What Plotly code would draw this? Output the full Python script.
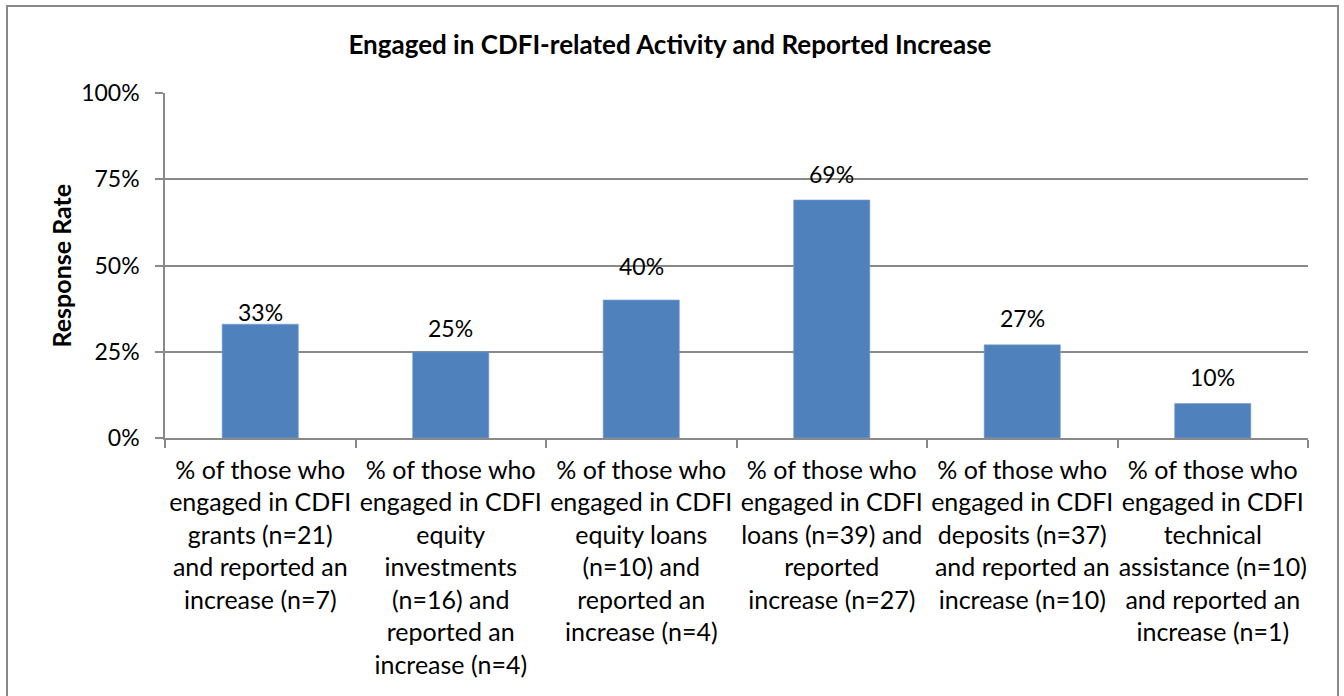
import plotly.graph_objects as go

# Category labels, one list of lines per bar
categories = [
    ["% of those who", "engaged in CDFI", "grants (n=21)", "and reported an", "increase (n=7)"],
    ["% of those who", "engaged in CDFI", "equity", "investments", "(n=16) and", "reported an", "increase (n=4)"],
    ["% of those who", "engaged in CDFI", "equity loans", "(n=10) and", "reported an", "increase (n=4)"],
    ["% of those who", "engaged in CDFI", "loans (n=39) and", "reported", "increase (n=27)"],
    ["% of those who", "engaged in CDFI", "deposits (n=37)", "and reported an", "increase (n=10)"],
    ["% of those who", "engaged in CDFI", "technical", "assistance (n=10)", "and reported an", "increase (n=1)"],
]
response_rate = [0.33, 0.25, 0.40, 0.69, 0.27, 0.10]
y_ticks = [0, 0.25, 0.50, 0.75, 1.00]
y_tick_labels = ["0%", "25%", "50%", "75%", "100%"]

# vertical offset (px) of each value label above its bar
label_lift = [12, 24, 34, 26, 27, 27]

FONT = "Lato, 'Open Sans', sans-serif"
GRID = "#898989"
BAR = "#4F81BD"

x_keys = [f"c{i}" for i in range(len(categories))]
tick_text = ["<br>".join(lines) for lines in categories]

fig = go.Figure(
    go.Bar(
        x=x_keys,
        y=response_rate,
        marker=dict(color=BAR, line=dict(color="#7DA1CF", width=0.6)),
        width=0.4,
        cliponaxis=False,
    )
)

L, R, T, B = 165, 36, 93, 258
W, H = 1344, 696
pw, ph = W - L - R, H - T - B

value_labels = [
    dict(
        x=k,
        y=v,
        xref="x",
        yref="y",
        text=f"{v:.0%}",
        showarrow=False,
        xanchor="center",
        yanchor="middle",
        yshift=lift,
        font=dict(family=FONT, size=23, color="#000000"),
    )
    for k, v, lift in zip(x_keys, response_rate, label_lift)
]

fig.update_layout(
    width=W,
    height=H,
    margin=dict(l=L, r=R, t=T, b=B),
    paper_bgcolor="white",
    plot_bgcolor="white",
    showlegend=False,
    font=dict(family=FONT, color="#000000"),
    title=dict(
        text="<b>Engaged in CDFI-related Activity and Reported Increase</b>",
        x=0.4985,
        xref="container",
        xanchor="center",
        y=1 - 45 / H,
        yref="container",
        yanchor="middle",
        font=dict(family=FONT, size=26, color="#000000"),
    ),
    xaxis=dict(
        tickmode="array",
        tickvals=x_keys,
        ticktext=tick_text,
        tickson="boundaries",
        ticks="outside",
        ticklen=8,
        tickcolor=GRID,
        tickwidth=1.5,
        ticklabelstandoff=9,
        tickfont=dict(family=FONT, size=25, color="#000000"),
        showline=True,
        linecolor=GRID,
        linewidth=1.5,
        showgrid=False,
        tickangle=0,
        fixedrange=True,
    ),
    yaxis=dict(
        range=[0, 1],
        tickmode="array",
        tickvals=y_ticks,
        ticktext=y_tick_labels,
        ticks="outside",
        ticklen=8,
        tickcolor=GRID,
        tickwidth=1.5,
        ticklabelstandoff=11,
        tickfont=dict(family=FONT, size=23, color="#000000"),
        showgrid=True,
        gridcolor=GRID,
        gridwidth=1.5,
        showline=True,
        linecolor=GRID,
        linewidth=1.5,
        zeroline=False,
        fixedrange=True,
    ),
    annotations=value_labels + [
        dict(
            text="<b>Response Rate</b>",
            x=(60 - L) / pw,
            y=0.5,
            xref="paper",
            yref="paper",
            textangle=-90,
            showarrow=False,
            xanchor="center",
            yanchor="middle",
            font=dict(family=FONT, size=25, color="#000000"),
        )
    ],
    shapes=[
        dict(
            type="rect",
            xref="paper",
            yref="paper",
            x0=(7 - L) / pw,
            x1=(1338 - L) / pw,
            y0=(H - B - 702) / ph,
            y1=(H - B - 6) / ph,
            line=dict(color=GRID, width=2),
            fillcolor="rgba(0,0,0,0)",
            layer="below",
        )
    ],
)

fig.write_html("out.html")
